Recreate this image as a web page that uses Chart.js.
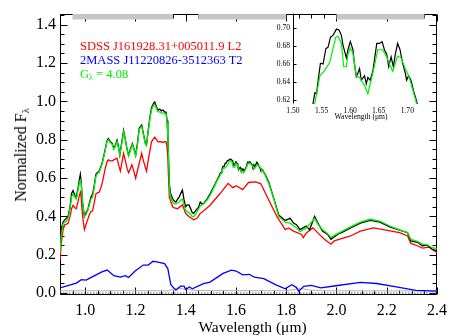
<!DOCTYPE html>
<html>
<head>
<meta charset="utf-8">
<script src="https://cdn.jsdelivr.net/npm/chart.js@4.4.0/dist/chart.umd.min.js"></script>
<style>
  body { margin: 0; background: #fff; }
  #wrap { position: relative; width: 453px; height: 335px; font-family: "Liberation Serif", "Times New Roman", serif; overflow: hidden; }
  canvas { position: absolute; }
  .lbl { position: absolute; white-space: nowrap; line-height: 1; }
  sub { font-size: 65%; vertical-align: -0.3em; line-height: 0; }
</style>
</head>
<body>
<div id="wrap">
  <canvas id="main" width="453" height="335" style="left:0;top:0"></canvas>
  <canvas id="inset" width="190" height="130" style="left:252px;top:0"></canvas>
  <div class="lbl" style="left:80px;top:39.5px;font-size:12.5px;color:#ff0000">SDSS J161928.31+005011.9 L2</div>
  <div class="lbl" style="left:80px;top:54px;font-size:12.5px;color:#0000ff">2MASS J11220826-3512363 T2</div>
  <div class="lbl" style="left:80px;top:67.8px;font-size:12.5px;color:#00f000">G<sub>λ</sub> = 4.08</div>
  <div class="lbl" style="left:152.5px;width:200px;text-align:center;top:319px;font-size:15.5px">Wavelength (μm)</div>
  <div class="lbl" style="left:21px;top:155px;font-size:16px;transform:translate(-50%,-50%) rotate(-90deg)">Normalized F<sub>λ</sub></div>
  <div class="lbl" style="left:301px;width:120px;text-align:center;top:113.3px;font-size:7.6px">Wavelength (μm)</div>
</div>
<script>
// SDSS J1619 spectrum (black)
const blackLam = [0.900,0.905,0.912,0.919,0.926,0.932,0.940,0.946,0.952,0.959,0.965,0.972,0.978,0.981,0.984,0.990,0.997,
  1.004,1.010,1.017,1.023,1.030,1.036,1.043,1.050,1.056,1.063,1.069,1.080,1.087,1.092,1.100,1.108,1.114,1.120,1.127,1.133,
  1.138,1.145,1.153,1.160,1.167,1.173,1.180,1.188,1.195,1.201,1.208,1.215,1.225,1.232,1.240,1.244,1.250,1.258,1.264,1.272,
  1.277,1.283,1.290,1.297,1.303,1.310,1.316,1.322,1.326,1.329,1.332,1.335,1.340,1.348,1.355,1.361,1.368,1.374,1.380,1.387,
  1.393,1.400,1.406,1.413,1.420,1.426,1.432,1.440,1.452,1.458,1.465,1.471,1.485,1.497,1.510,1.523,
  1.5353,1.5383,1.5412,1.544,1.548,1.5527,1.5574,1.5614,1.5656,1.570,1.576,1.5805,1.5847,1.5875,1.5934,1.5962,1.6003,
  1.6049,1.6078,1.6108,1.6136,1.6165,1.6195,1.6252,1.6282,1.631,1.6351,1.6397,1.6466,1.6513,1.656,1.660,1.664,1.6675,
  1.6717,1.6757,1.6791,1.6831,1.6873,1.6918,1.6965,1.6988,1.7023,1.7064,1.711,1.7162,
  1.731,1.751,1.770,1.796,1.816,1.829,1.841,1.855,1.867,1.880,1.893,1.913,1.926,1.945,1.965,1.978,2.004,2.030,2.056,
  2.095,2.134,2.173,2.212,2.251,2.283,2.296,2.322,2.342,2.361,2.380,2.400];
const blackFlux = [0.23,0.33,0.37,0.382,0.39,0.40,0.45,0.52,0.535,0.51,0.50,0.55,0.60,0.62,0.585,0.47,0.40,
  0.42,0.433,0.47,0.50,0.518,0.56,0.62,0.63,0.636,0.66,0.687,0.75,0.795,0.806,0.79,0.78,0.755,0.77,0.797,0.76,
  0.72,0.78,0.848,0.80,0.75,0.72,0.75,0.78,0.75,0.72,0.78,0.86,0.877,0.83,0.78,0.772,0.84,0.92,0.966,0.99,
  0.997,0.975,0.954,0.96,0.95,0.955,0.945,0.944,0.90,0.822,0.70,0.569,0.52,0.492,0.48,0.475,0.49,0.50,0.52,0.538,
  0.49,0.45,0.46,0.46,0.44,0.42,0.416,0.43,0.45,0.475,0.465,0.467,0.49,0.518,0.55,0.585,
  0.617,0.628,0.627,0.642,0.661,0.66,0.677,0.679,0.69,0.692,0.699,0.698,0.692,0.681,0.667,0.676,0.685,
  0.676,0.659,0.646,0.65,0.655,0.642,0.647,0.638,0.645,0.642,0.652,0.683,0.683,0.685,0.676,0.671,0.657,
  0.668,0.657,0.671,0.683,0.676,0.661,0.65,0.642,0.647,0.642,0.63,0.619,
  0.577,0.492,0.408,0.379,0.39,0.365,0.357,0.331,0.34,0.35,0.33,0.40,0.365,0.323,0.306,0.281,0.306,0.322,0.34,
  0.365,0.379,0.37,0.345,0.328,0.315,0.272,0.265,0.247,0.25,0.23,0.22];

// composite template (green)
const greenLam = [0.900,0.905,0.912,0.919,0.926,0.932,0.940,0.946,0.952,0.959,0.965,0.972,0.978,0.981,0.984,0.990,0.997,
  1.004,1.010,1.017,1.023,1.030,1.036,1.043,1.050,1.056,1.063,1.069,1.080,1.087,1.092,1.100,1.108,1.114,1.120,1.127,1.133,
  1.138,1.145,1.153,1.160,1.167,1.173,1.180,1.188,1.195,1.201,1.208,1.215,1.225,1.232,1.240,1.244,1.250,1.258,1.264,1.272,
  1.277,1.283,1.290,1.297,1.303,1.310,1.316,1.322,1.326,1.329,1.332,1.335,1.340,1.348,1.355,1.361,1.368,1.374,1.380,1.387,
  1.393,1.400,1.406,1.413,1.420,1.426,1.432,1.440,1.452,1.458,1.465,1.471,1.485,1.497,1.510,1.523,1.533,
  1.5383,1.5423,1.547,1.5557,1.5643,1.570,1.5748,1.5788,1.5847,1.5887,1.5934,1.5962,1.6003,1.6049,1.6108,1.6165,1.6252,
  1.631,1.6397,1.6484,1.657,1.664,1.6687,1.6745,1.6831,1.689,1.6965,1.7035,1.7092,1.7151,
  1.731,1.751,1.770,1.796,1.816,1.841,1.855,1.880,1.913,1.926,1.945,1.965,1.978,2.004,2.056,2.095,2.134,2.173,2.212,
  2.251,2.283,2.296,2.322,2.342,2.361,2.380,2.400];
const greenFlux = [0.21,0.30,0.36,0.37,0.375,0.39,0.44,0.50,0.52,0.50,0.49,0.54,0.58,0.59,0.575,0.47,0.40,
  0.41,0.43,0.46,0.49,0.50,0.55,0.61,0.625,0.63,0.655,0.68,0.745,0.79,0.80,0.785,0.775,0.75,0.765,0.79,0.755,
  0.72,0.775,0.84,0.80,0.745,0.715,0.745,0.775,0.745,0.715,0.77,0.855,0.87,0.825,0.775,0.77,0.835,0.91,0.955,0.98,
  0.983,0.965,0.945,0.945,0.94,0.94,0.935,0.935,0.89,0.815,0.69,0.55,0.50,0.475,0.465,0.465,0.47,0.475,0.485,0.49,
  0.46,0.43,0.425,0.42,0.41,0.40,0.398,0.41,0.44,0.455,0.46,0.465,0.485,0.51,0.545,0.58,0.605,
  0.617,0.63,0.647,0.653,0.662,0.677,0.69,0.691,0.683,0.657,0.657,0.671,0.678,0.672,0.647,0.645,0.636,
  0.627,0.65,0.676,0.676,0.668,0.66,0.652,0.669,0.667,0.655,0.645,0.632,0.619,
  0.57,0.49,0.40,0.37,0.365,0.34,0.32,0.34,0.39,0.36,0.33,0.31,0.29,0.31,0.345,0.37,0.385,0.375,0.35,
  0.33,0.315,0.28,0.27,0.255,0.252,0.238,0.23];

// L2 component (red)
const redLam = [0.900,0.905,0.912,0.919,0.926,0.932,0.940,0.946,0.952,0.959,0.965,0.972,0.978,0.981,0.984,0.990,0.997,
  1.004,1.010,1.017,1.023,1.030,1.036,1.043,1.050,1.056,1.063,1.069,1.080,1.087,1.092,1.100,1.108,1.114,1.127,1.133,1.140,
  1.153,1.160,1.167,1.173,1.186,1.195,1.201,1.210,1.225,1.232,1.244,1.252,1.264,1.277,1.290,1.303,1.310,1.316,1.322,1.326,
  1.329,1.332,1.335,1.348,1.355,1.368,1.387,1.393,1.400,1.413,1.432,1.445,1.458,1.472,1.497,1.536,1.569,1.588,1.601,1.627,
  1.650,1.679,1.699,1.731,1.763,1.796,1.809,1.829,1.861,1.868,1.880,1.906,1.926,1.952,1.978,1.991,2.056,2.095,2.147,2.186,
  2.251,2.283,2.296,2.322,2.342,2.367,2.400];
const redFlux = [0.17,0.26,0.33,0.357,0.36,0.364,0.40,0.44,0.458,0.445,0.44,0.48,0.515,0.526,0.50,0.40,0.331,
  0.36,0.382,0.41,0.425,0.43,0.47,0.518,0.524,0.526,0.55,0.58,0.65,0.685,0.695,0.69,0.69,0.695,0.704,0.67,0.636,
  0.729,0.69,0.65,0.628,0.67,0.63,0.599,0.65,0.729,0.69,0.636,0.70,0.789,0.814,0.789,0.79,0.785,0.79,0.789,0.76,
  0.704,0.60,0.50,0.45,0.445,0.44,0.46,0.44,0.416,0.40,0.382,0.39,0.416,0.43,0.458,0.518,0.572,0.55,0.56,0.54,
  0.577,0.58,0.57,0.484,0.40,0.331,0.34,0.323,0.306,0.289,0.314,0.34,0.314,0.281,0.255,0.272,0.298,0.323,0.34,0.331,
  0.315,0.298,0.259,0.247,0.235,0.24,0.21];

// T2 component (blue)
const blueLam = [0.900,0.965,0.985,1.004,1.030,1.069,1.088,1.114,1.140,1.160,1.173,1.199,1.231,1.251,1.270,1.290,1.316,
  1.329,1.341,1.361,1.380,1.394,1.400,1.415,1.426,1.471,1.497,1.549,1.582,1.601,1.627,1.653,1.673,1.711,1.757,1.796,
  1.822,1.840,1.850,1.870,1.900,1.938,1.990,2.095,2.160,2.238,2.316,2.400];
const blueFlux = [0.027,0.052,0.07,0.068,0.086,0.112,0.12,0.091,0.083,0.091,0.081,0.115,0.146,0.146,0.166,0.162,0.154,
  0.128,0.044,0.015,0.036,0.036,0.019,0.032,0.022,0.049,0.057,0.103,0.12,0.115,0.095,0.098,0.083,0.075,0.044,0.022,
  0.044,0.03,0.01,0.035,0.04,0.027,0.037,0.056,0.05,0.032,0.014,0.01];

// noise (grey)
const noiseLam = [0.90,1.33,1.35,1.37,1.40,1.45,1.80,1.84,1.86,1.89,1.95,2.40];
const noiseFlux = [0.012,0.012,0.02,0.027,0.018,0.013,0.012,0.02,0.024,0.016,0.012,0.011];

// telluric-free bands marked at top
const bandStart = [0.95, 1.45, 2.00];
const bandEnd = [1.35, 1.80, 2.35];
const bandLevel = 1.442;

const FONT = "'Liberation Serif', 'Times New Roman', serif";

function pairs(xs, ys) {
  return xs.map((x, i) => ({ x: x, y: ys[i] }));
}

function bandPoints() {
  const out = [];
  bandStart.forEach((s, i) => {
    out.push({ x: s, y: bandLevel }, { x: bandEnd[i], y: bandLevel }, { x: bandEnd[i], y: null });
  });
  return out;
}

// box with inward ticks, idl style
const framePlugin = {
  id: 'frame',
  beforeDatasetsDraw(chart, args, opts) {
    const ctx = chart.ctx, a = chart.chartArea;
    const xs = chart.scales.x, ys = chart.scales.y;
    const L = Math.round(a.left) + 0.5, R = Math.round(a.right) - 0.5;
    const T = Math.round(a.top) + 0.5, B = Math.round(a.bottom) - 0.5;
    const sides = opts.sides;
    ctx.save();
    ctx.strokeStyle = '#000';
    ctx.lineWidth = 1;
    ctx.beginPath();
    if (sides.includes('left')) { ctx.moveTo(L, T); ctx.lineTo(L, B); }
    if (sides.includes('right')) { ctx.moveTo(R, T); ctx.lineTo(R, B); }
    if (sides.includes('top')) { ctx.moveTo(L, T); ctx.lineTo(R, T); }
    if (sides.includes('bottom')) { ctx.moveTo(L, B); ctx.lineTo(R, B); }

    function each(scale, minor, ratio, fn) {
      const i0 = Math.ceil(scale.min / minor - 1e-6), i1 = Math.floor(scale.max / minor + 1e-6);
      for (let i = i0; i <= i1; i++) fn(Math.round(scale.getPixelForValue(i * minor)) + 0.5, i % ratio === 0);
    }
    const maj = opts.major, min = opts.minor;
    each(xs, opts.xMinor, opts.xRatio, (p, big) => {
      const len = big ? maj : min;
      if (sides.includes('bottom')) { ctx.moveTo(p, B); ctx.lineTo(p, B - len); }
      if (sides.includes('top')) { ctx.moveTo(p, T); ctx.lineTo(p, T + len); }
    });
    each(ys, opts.yMinor, opts.yRatio, (p, big) => {
      const len = big ? maj : min;
      if (sides.includes('left')) { ctx.moveTo(L, p); ctx.lineTo(L + len, p); }
      if (sides.includes('right')) { ctx.moveTo(R, p); ctx.lineTo(R - len, p); }
    });
    ctx.stroke();
    ctx.restore();
  }
};

const lineStyle = (color, w) => ({
  borderColor: color, backgroundColor: color, borderWidth: w,
  pointRadius: 0, tension: 0, fill: false, spanGaps: false
});

new Chart(document.getElementById('main'), {
  type: 'line',
  data: {
    datasets: [
      Object.assign({ data: pairs(greenLam, greenFlux) }, lineStyle('#00f000', 1.3)),
      Object.assign({ data: pairs(blackLam, blackFlux) }, lineStyle('#000000', 1.3)),
      Object.assign({ data: pairs(redLam, redFlux) }, lineStyle('#ff0000', 1.3)),
      Object.assign({ data: pairs(blueLam, blueFlux) }, lineStyle('#0000ff', 1.3)),
      Object.assign({ data: pairs(noiseLam, noiseFlux) }, lineStyle('#b0b0b0', 1)),
      Object.assign({ data: [{ x: 0.9, y: 0 }, { x: 2.4, y: 0 }], borderDash: [1.5, 1.5] }, lineStyle('#555555', 1)),
      Object.assign({ data: bandPoints() }, lineStyle('#c6c6c6', 5.5))
    ]
  },
  options: {
    responsive: false,
    animation: false,
    devicePixelRatio: 1,
    layout: { padding: { left: 0, right: 8, top: 5, bottom: 0 } },
    plugins: {
      legend: { display: false },
      tooltip: { enabled: false },
      frame: { sides: ['left', 'right', 'top', 'bottom'], major: 7, minor: 4, xMinor: 0.05, xRatio: 4, yMinor: 0.05, yRatio: 4 }
    },
    scales: {
      x: {
        type: 'linear', min: 0.9, max: 2.4,
        grid: { display: false, drawTicks: false },
        border: { display: false },
        ticks: {
          stepSize: 0.2, includeBounds: false, autoSkip: false, maxRotation: 0,
          padding: 6, color: '#000', font: { family: FONT, size: 16 },
          callback: (v) => v.toFixed(1)
        },
        afterFit: (s) => { s.height = 40; }
      },
      y: {
        type: 'linear', min: -0.01, max: 1.458,
        grid: { display: false, drawTicks: false },
        border: { display: false },
        ticks: {
          stepSize: 0.2, includeBounds: false, autoSkip: false,
          padding: 4, color: '#000', font: { family: FONT, size: 16 },
          callback: (v) => v.toFixed(1)
        },
        afterFit: (s) => { s.width = 60; }
      }
    }
  },
  plugins: [framePlugin]
});

new Chart(document.getElementById('inset'), {
  type: 'line',
  data: {
    datasets: [
      Object.assign({ data: pairs(greenLam, greenFlux) }, lineStyle('#00f000', 1.2)),
      Object.assign({ data: pairs(blackLam, blackFlux) }, lineStyle('#000000', 1.2))
    ]
  },
  options: {
    responsive: false,
    animation: false,
    devicePixelRatio: 1,
    layout: { padding: { left: 0, right: 9, top: 12.5, bottom: 0 } },
    plugins: {
      legend: { display: false },
      tooltip: { enabled: false },
      frame: { sides: ['left'], major: 3, minor: 0, xMinor: 0.05, xRatio: 1, yMinor: 0.02, yRatio: 1 }
    },
    scales: {
      x: {
        type: 'linear', min: 1.5, max: 1.745,
        grid: { display: false, drawTicks: false },
        border: { display: false },
        ticks: {
          stepSize: 0.05, includeBounds: false, autoSkip: false, maxRotation: 0,
          padding: 2, color: '#000', font: { family: FONT, size: 7.6 },
          callback: (v) => v.toFixed(2)
        },
        afterFit: (s) => { s.height = 26; }
      },
      y: {
        type: 'linear', min: 0.6155, max: 0.7175,
        grid: { display: false, drawTicks: false },
        border: { display: false },
        ticks: {
          stepSize: 0.02, includeBounds: false, autoSkip: false,
          padding: 3, color: '#000', font: { family: FONT, size: 7.6 },
          callback: (v) => v.toFixed(2)
        },
        afterFit: (s) => { s.width = 41; }
      }
    }
  },
  plugins: [framePlugin]
});
</script>
</body>
</html>
